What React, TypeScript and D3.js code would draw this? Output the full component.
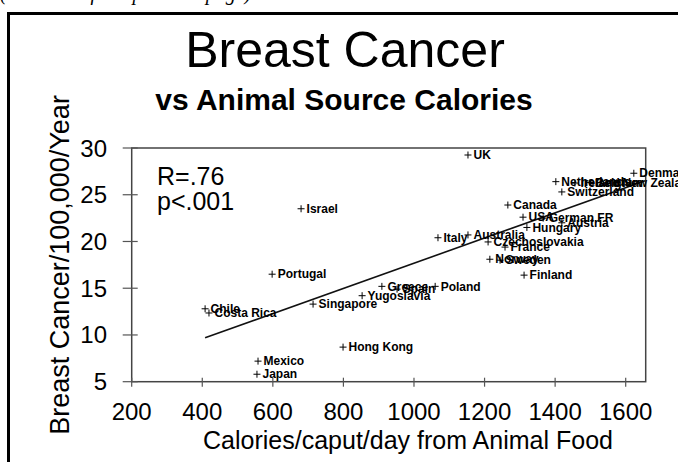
import React from "react";
import * as d3 from "d3";

// ---- data ----
const countries = [
  "UK", "Israel", "Italy", "Portugal", "Chile", "Costa Rica", "Singapore",
  "Yugoslavia", "Greece", "Spain", "Poland", "Hong Kong", "Mexico", "Japan",
  "Finland", "Norway", "Sweden", "France", "Czechoslovakia", "Australia",
  "Hungary", "USA", "German FR", "Austria", "Canada", "Switzerland",
  "Netherlands", "Ireland", "Belgium", "New Zealand", "Denmark",
];
const calories = [
  1153, 680, 1068, 598, 408, 419, 714,
  853, 909, 952, 1060, 799, 558, 555,
  1312, 1215, 1244, 1258, 1210, 1153,
  1320, 1309, 1366, 1419, 1266, 1419,
  1402, 1456, 1499, 1575, 1623,
];
const incidence = [
  29.25, 23.5, 20.4, 16.5, 12.8, 12.35, 13.3,
  14.2, 15.2, 14.9, 15.2, 8.7, 7.2, 5.8,
  16.4, 18.1, 18.0, 19.4, 19.95, 20.7,
  21.5, 22.6, 22.5, 22.0, 23.9, 25.3,
  26.4, 26.25, 26.3, 26.3, 27.3,
];
const trendX = [408, 1655];
const trendY = [9.7, 26.5];
const xTicks = [200, 400, 600, 800, 1000, 1200, 1400, 1600];
const yTicks = [5, 10, 15, 20, 25, 30];
const statLines = ["R=.76", "p<.001"];
const title = "Breast Cancer";
const subtitle = "vs Animal Source Calories";
const xTitle = "Calories/caput/day from Animal Food";
const yTitle = "Breast Cancer/100,000/Year";
const topNote = "(continued from previous page)";

const W = 678;
const H = 462;
const SANS = "'Liberation Sans', Arial, Helvetica, sans-serif";

export default function App() {
  const plotL = 131.7, plotR = 645.7, plotT = 148, plotB = 381.7;
  const x = d3.scaleLinear().domain([200, 1600]).range([plotL, 625.7]);
  const y = d3.scaleLinear().domain([5, 30]).range([plotB, plotT]);
  const points = countries.map((c, i) => ({ c, x: calories[i], y: incidence[i] }));
  const line = d3.line<number>().x((_, i) => x(trendX[i])).y((d) => y(d));

  return (
    <div style={{ position: "absolute", left: 0, top: 0 }}>
      <svg width={W} height={H} style={{ display: "block", background: "#fff" }}>
        {/* clipped note from previous page */}
        <text x={0} y={0} fontFamily="'Liberation Serif', 'Times New Roman', serif" fontStyle="italic" fontSize={20} fill="#000">
          {topNote}
        </text>
        {/* outer frame */}
        <path d={`M8.5,${H} L8.5,13.5 L${W + 5},13.5`} fill="none" stroke="#000" strokeWidth={3} />

        {/* titles */}
        <text x={345} y={67} textAnchor="middle" fontFamily={SANS} fontSize={50} fill="#000">{title}</text>
        <text x={344} y={110} textAnchor="middle" fontFamily={SANS} fontWeight="bold" fontSize={30} fill="#000">{subtitle}</text>

        {/* plot frame */}
        <rect x={plotL} y={plotT} width={plotR - plotL} height={plotB - plotT} fill="none" stroke="#444" strokeWidth={1.5} />

        {/* y ticks */}
        {yTicks.map((t) => (
          <g key={"y" + t}>
            <line x1={plotL - 9} x2={plotL + 6} y1={y(t)} y2={y(t)} stroke="#555" strokeWidth={1.2} />
            <text x={107} y={y(t) + 8.5} textAnchor="end" fontFamily={SANS} fontSize={24} fill="#000">{t}</text>
          </g>
        ))}
        {/* x ticks */}
        {xTicks.map((t) => (
          <g key={"x" + t}>
            <line x1={x(t)} x2={x(t)} y1={plotB - 4} y2={plotB + 5} stroke="#555" strokeWidth={1.2} />
            <text x={x(t)} y={420} textAnchor="middle" fontFamily={SANS} fontSize={24} fill="#000">{t}</text>
          </g>
        ))}

        {/* axis titles */}
        <text x={408} y={449} textAnchor="middle" fontFamily={SANS} fontSize={25} fill="#000">{xTitle}</text>
        <text transform={`translate(69,265) rotate(-90)`} textAnchor="middle" fontFamily={SANS} fontSize={27} fill="#000">{yTitle}</text>

        {/* stats */}
        {statLines.map((s, i) => (
          <text key={s} x={157} y={185 + i * 25} fontFamily={SANS} fontSize={25} fill="#000">{s}</text>
        ))}

        {/* regression line */}
        <path d={line(trendY) || ""} fill="none" stroke="#111" strokeWidth={1.6} />

        {/* points */}
        {points.map((p) => {
          const px = x(p.x), py = y(p.y);
          return (
            <g key={p.c}>
              <path d={`M${px - 3.5},${py} H${px + 3.5} M${px},${py - 3.5} V${py + 3.5}`} stroke="#000" strokeWidth={1} />
              <text x={px + 5.5} y={py + 4.2} fontFamily={SANS} fontWeight="bold" fontSize={12} fill="#000">{p.c}</text>
            </g>
          );
        })}
      </svg>
    </div>
  );
}
